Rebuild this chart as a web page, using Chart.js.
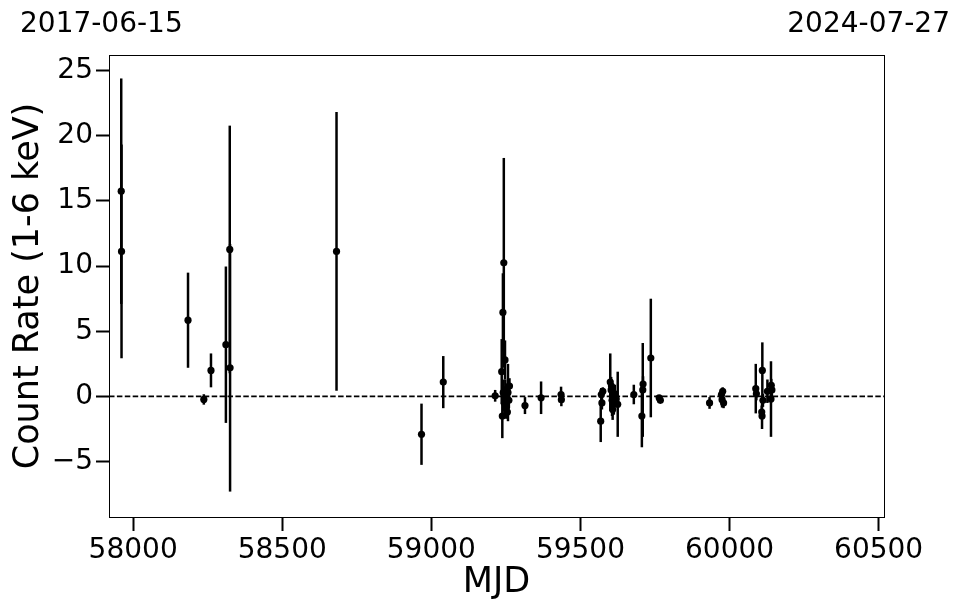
<!DOCTYPE html>
<html>
<head>
<meta charset="utf-8">
<script src="https://cdn.jsdelivr.net/npm/chart.js@4"></script>
<style>
  html, body { margin: 0; padding: 0; background: #fff; }
  #wrap { position: relative; width: 962px; height: 613px; }
  .date { position: absolute; top: 9px; font-family: "DejaVu Sans", sans-serif; font-size: 28px; line-height: 28px; color: #000; white-space: nowrap; }
  #dl { left: 20px; }
  #dr { right: 12px; }
</style>
</head>
<body>
<div id="wrap">
  <canvas id="c" width="962" height="613"></canvas>
  <div class="date" id="dl">2017-06-15</div>
  <div class="date" id="dr">2024-07-27</div>
</div>
<script>
const mjd = [57960, 57961, 58184, 58237, 58261, 58311, 58324, 58325, 58682, 58967, 59040, 59214,
  59243, 59240, 59236, 59247, 59241, 59245, 59238, 59250, 59253, 59257, 59262, 59260, 59255, 59248, 59252,
  59314, 59368, 59435, 59436,
  59568, 59570, 59572, 59575, 59600, 59603, 59604, 59606, 59608, 59610, 59612, 59615, 59620, 59625,
  59679, 59706, 59709, 59710, 59736, 59764, 59768,
  59933, 59973, 59975, 59977, 59980,
  60088, 60090, 60108, 60109, 60110, 60112, 60127, 60139, 60140, 60142];
const rate = [15.75, 11.13, 5.85, -0.23, 2.0, 3.97, 11.28, 2.2, 11.13, -2.9, 1.1, 0.05,
  10.25, 6.45, 1.9, 2.8, 0.3, -0.5, -1.5, -0.9, 0.0, 0.3, 0.8, -0.3, -1.2, 0.5, -0.8,
  -0.7, -0.1, 0.15, -0.25,
  -1.9, 0.15, -0.5, 0.4, 1.1, 0.5, 0.8, -0.3, -1.0, 0.0, -0.6, 0.2, -0.2, -0.6,
  0.15, -1.5, 0.5, 0.95, 2.95, -0.1, -0.3,
  -0.5, 0.15, -0.25, 0.4, -0.5,
  0.6, 0.2, -1.2, -1.5, 2.0, -0.3, 0.4, -0.2, 0.85, 0.5];
const rateErr = [8.65, 8.2, 3.65, 0.4, 1.3, 6.0, 9.5, 9.5, 10.7, 2.35, 2.0, 0.45,
  8.05, 3.0, 2.5, 1.5, 1.0, 1.2, 1.7, 0.8, 1.0, 2.2, 0.6, 0.6, 0.5, 0.8, 0.6,
  0.65, 1.25, 0.6, 0.5,
  1.6, 0.5, 0.5, 0.3, 2.2, 1.0, 0.5, 1.2, 0.8, 0.6, 0.8, 0.7, 0.5, 2.5,
  0.75, 2.4, 3.6, 0.6, 4.55, 0.2, 0.2,
  0.45, 0.4, 0.6, 0.3, 0.4,
  1.9, 0.5, 0.5, 1.0, 2.15, 0.5, 0.9, 2.9, 0.5, 0.6];
const xTicks = [58000, 58500, 59000, 59500, 60000, 60500];
const yTicks = [-5, 0, 5, 10, 15, 20, 25];
const xRange = [57919, 60518];
const yRange = [-9.25, 26.2];

const FONT = "'DejaVu Sans', sans-serif";

const errPlugin = {
  id: 'errbars',
  beforeDatasetsDraw(chart) {
    const ctx = chart.ctx, xs = chart.scales.x, ys = chart.scales.y, a = chart.chartArea;
    ctx.save();
    ctx.beginPath();
    ctx.rect(a.left, a.top, a.right - a.left, a.bottom - a.top);
    ctx.clip();
    ctx.strokeStyle = '#000';
    ctx.lineWidth = 1.7;
    ctx.setLineDash([5.5, 2.4]);
    const y0 = ys.getPixelForValue(0);
    ctx.beginPath();
    ctx.moveTo(a.left, y0);
    ctx.lineTo(a.right, y0);
    ctx.stroke();
    ctx.setLineDash([]);
    ctx.lineWidth = 2.5;
    for (let i = 0; i < mjd.length; i++) {
      const px = xs.getPixelForValue(mjd[i]);
      const top = ys.getPixelForValue(rate[i] + rateErr[i]);
      const bot = ys.getPixelForValue(rate[i] - rateErr[i]);
      ctx.beginPath();
      ctx.moveTo(px, top);
      ctx.lineTo(px, bot);
      ctx.stroke();
    }
    ctx.restore();
  },
  afterDraw(chart) {
    const ctx = chart.ctx, a = chart.chartArea;
    ctx.save();
    ctx.strokeStyle = '#000';
    ctx.lineWidth = 1;
    ctx.strokeRect(Math.round(a.left) + 0.5, Math.round(a.top) + 0.5, Math.round(a.right - a.left), Math.round(a.bottom - a.top));
    ctx.restore();
  }
};

new Chart(document.getElementById('c'), {
  type: 'scatter',
  data: {
    datasets: [{
      data: mjd.map((m, i) => ({ x: m, y: rate[i] })),
      backgroundColor: '#000',
      borderColor: '#000',
      pointRadius: 3.6,
      pointHoverRadius: 3.6,
      borderWidth: 0
    }]
  },
  options: {
    responsive: false,
    animation: false,
    devicePixelRatio: 1,
    layout: { padding: { top: 55, right: 78, left: 0, bottom: 0 } },
    plugins: { legend: { display: false }, tooltip: { enabled: false } },
    scales: {
      x: {
        type: 'linear',
        min: xRange[0], max: xRange[1],
        afterFit(s) { s.height = 96; },
        afterBuildTicks(s) { s.ticks = xTicks.map(v => ({ value: v })); },
        grid: { drawOnChartArea: false, drawTicks: true, tickLength: 14, tickWidth: 2, tickColor: '#000' },
        border: { display: false },
        ticks: { color: '#000', font: { family: FONT, size: 28 }, padding: 3, maxRotation: 0, autoSkip: false,
                 callback: v => String(v) },
        title: { display: true, text: 'MJD', color: '#000', font: { family: FONT, size: 35 }, padding: { top: 0, bottom: 9 } }
      },
      y: {
        type: 'linear',
        min: yRange[0], max: yRange[1],
        afterFit(s) { s.width = 109; },
        afterBuildTicks(s) { s.ticks = yTicks.map(v => ({ value: v })); },
        grid: { drawOnChartArea: false, drawTicks: true, tickLength: 13, tickWidth: 2, tickColor: '#000' },
        border: { display: false },
        ticks: { color: '#000', font: { family: FONT, size: 28 }, padding: 3, autoSkip: false,
                 callback: v => (v < 0 ? '\u2212' + Math.abs(v) : String(v)) },
        title: { display: true, text: 'Count Rate (1-6 keV)', color: '#000', font: { family: FONT, size: 35 }, padding: { top: 8, bottom: 0 } }
      }
    }
  },
  plugins: [errPlugin]
});
</script>
</body>
</html>
